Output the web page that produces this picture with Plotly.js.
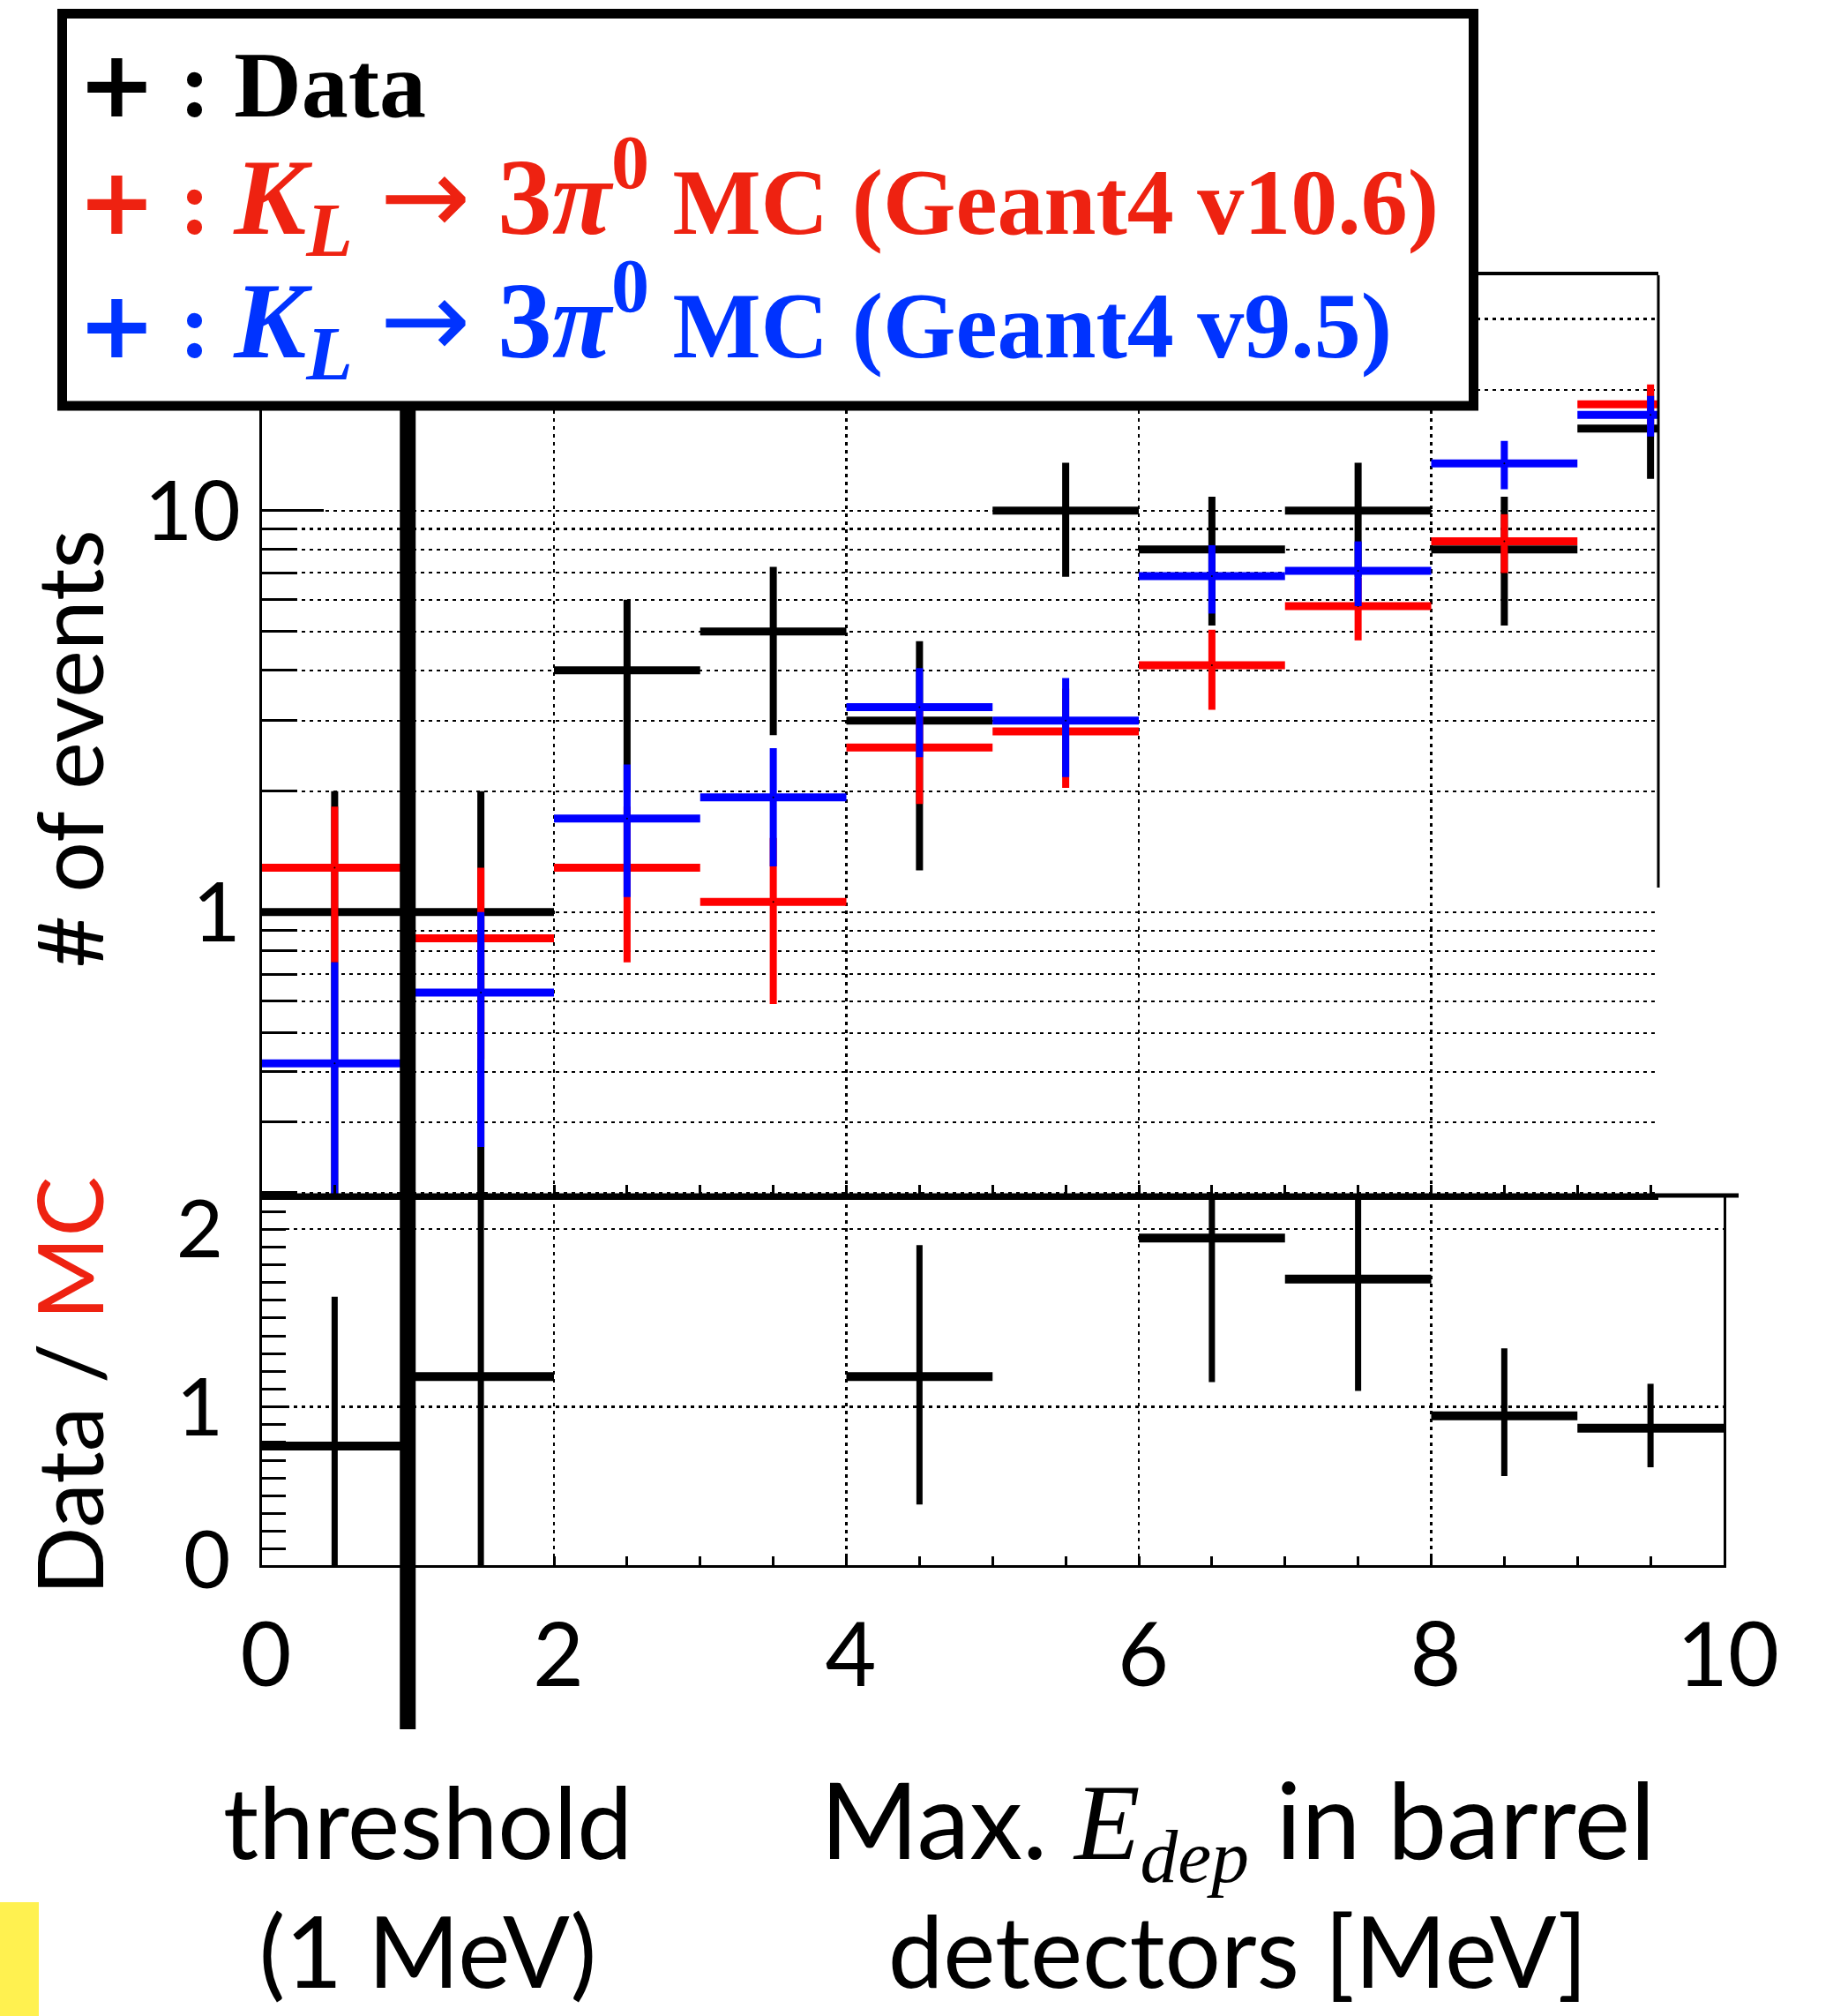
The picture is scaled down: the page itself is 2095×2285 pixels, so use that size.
<!DOCTYPE html>
<html>
<head>
<meta charset="utf-8">
<script src="https://cdn.plot.ly/plotly-3.0.1.min.js"></script>
<style>
  html, body { margin: 0; padding: 0; background: #ffffff; }
  #chart { width: 2095px; height: 2285px; }
</style>
</head>
<body>
<div id="chart"></div>
<script>
// ---------------- data ----------------
const binCenters   = [0.5, 1.5, 2.5, 3.5, 4.5, 5.5, 6.5, 7.5, 8.5, 9.5];
const binHalfWidth = [0.5, 0.5, 0.5, 0.5, 0.5, 0.5, 0.5, 0.5, 0.5, 0.5];

// Data (black)
const dataCounts = [1, 1, 4, 5, 3, 10, 8, 10, 8, 16];
const dataErr    = [1, 1, 2, 2.24, 1.73, 3.16, 2.83, 3.16, 2.83, 4];

// KL -> 3pi0 MC, Geant4 v10.6 (red)
const mcV106    = [1.29, 0.86, 1.29, 1.06, 2.57, 2.82, 4.12, 5.78, 8.39, 18.4];
const mcV106Err = [0.54, 0.43, 0.54, 0.47, 0.71, 0.78, 0.93, 1.03, 1.40, 2.2];

// KL -> 3pi0 MC, Geant4 v9.5 (blue)
const mcV95    = [0.42, 0.63, 1.71, 1.93, 3.24, 3.00, 6.87, 7.08, 13.1, 17.3];
const mcV95Err = [0.33, 0.37, 0.62, 0.63, 0.81, 0.83, 1.33, 1.30, 1.80, 2.0];

// Data / MC ratio (points outside the pad are not drawn in the reference)
const ratio        = [0.78, 1.17, null, null, 1.17, null, 1.95, 1.72, 0.95, 0.88];
const ratioErrUp   = [0.84, 1.30, null, null, 0.74, null, 0.81, 0.63, 0.38, 0.25];
const ratioErrDown = [0.84, 1.30, null, null, 0.72, null, 0.81, 0.63, 0.34, 0.22];

// tick labels
const xTickVals  = [0, 2, 4, 6, 8, 10];
const xTickText  = ['0', '2', '4', '6', '8', '10'];
const xHalfTicks = [0.5, 1, 1.5, 2.5, 3, 3.5, 4.5, 5, 5.5, 6.5, 7, 7.5, 8.5, 9, 9.5];
const xUpperGrid = [2, 4, 6, 8];
const yLogMajor  = [1, 10];
const yLogText   = ['1', '10'];
const yLogMinor  = [0.2, 0.3, 0.4, 0.5, 0.6, 0.7, 0.8, 0.9, 2, 3, 4, 5, 6, 7, 8, 9, 20, 30];
const yRatioMajor = [1, 2];
const yRatioText  = ['1', '2'];
const yRatioHalfGrid = [0.5, 1.5];
const yRatioMinor = [0.2, 0.3, 0.4, 0.5, 0.6, 0.7, 0.8, 0.9, 1.1, 1.2, 1.3, 1.4, 1.5, 1.6, 1.7, 1.8, 1.9, 2.1];
const threshold = 1;

// ---------------- styles ----------------
const W = 2095, H = 2285;
const RED_LINE = '#ff0000', BLUE_LINE = '#0000ff';
const RED_TXT = '#ee2211', BLUE_TXT = '#0033ff';
const TICKFONT = 'Lato, "Open Sans", sans-serif';
const LEGFONT = '"Liberation Serif", "DejaVu Serif", serif';
const GRIDDASH = '4px,5px';

function histTrace(y, err, color, xa, ya, tx, ty, errDown) {
  return {
    type: 'scatter', mode: 'markers',
    x: binCenters, y: y, xaxis: xa, yaxis: ya,
    marker: { size: 2, color: '#000000' },
    error_x: { type: 'data', array: binHalfWidth, symmetric: true, color: color, thickness: tx, width: 0 },
    error_y: errDown
      ? { type: 'data', array: err, arrayminus: errDown, symmetric: false, color: color, thickness: ty, width: 0 }
      : { type: 'data', array: err, symmetric: true, color: color, thickness: ty, width: 0 },
    hoverinfo: 'skip', showlegend: false, cliponaxis: true
  };
}

const traces = [
  histTrace(dataCounts, dataErr, '#000000', 'x', 'y', 9, 8),
  histTrace(mcV106, mcV106Err, RED_LINE, 'x', 'y', 9, 8),
  histTrace(mcV95, mcV95Err, BLUE_LINE, 'x', 'y', 9, 8),
  histTrace(ratio, ratioErrUp, '#000000', 'x2', 'y2', 10, 7, ratioErrDown)
];

const xL = 296.5 / W;
const xRlow = 1954 / W;
const xRup = 1880 / W;
const upRange = 10 * (1880 - 296.5) / (1954 - 296.5);
const yUpBot = (H - 1356) / H, yUpTop = (H - 312) / H;
const yLoBot = (H - 1774) / H;
const ratioRange = [0.109, 2.185];

const gridStyle = { showgrid: true, gridcolor: '#000000', gridwidth: 2.2, griddash: GRIDDASH };

const PLUS = '<span style="font-family:DejaVu Sans">+</span>';
const ARROW = '<span style="font-family:DejaVu Sans;font-weight:normal">→</span>';
function legendText(label) {
  return '<b>' + PLUS + '&nbsp;:&nbsp;' + label + '</b>';
}
const DECAY = '<span style="font-size:123px"><i>K</i><sub><i>L</i></sub>&nbsp;' + ARROW + '&nbsp;3<i>π</i><sup>0</sup></span>';

const layout = {
  width: W, height: H,
  margin: { l: 0, r: 0, t: 0, b: 0, pad: 0 },
  paper_bgcolor: '#ffffff', plot_bgcolor: '#ffffff',
  showlegend: false,
  xaxis: Object.assign({
    domain: [xL, xRup], range: [0, upRange], anchor: 'y',
    tickmode: 'array', tickvals: xUpperGrid, showticklabels: false,
    ticks: 'inside', ticklen: 13, tickwidth: 3, tickcolor: '#000',
    showline: true, linewidth: 4, linecolor: '#000', mirror: true, zeroline: false,
    minor: { tickmode: 'array', tickvals: xHalfTicks, ticks: 'inside', ticklen: 13, tickwidth: 3, tickcolor: '#000', showgrid: false }
  }, gridStyle),
  yaxis: Object.assign({
    type: 'log', domain: [yUpBot, yUpTop], range: [-0.708, 1.586], anchor: 'x',
    tickmode: 'array', tickvals: yLogMajor, ticktext: yLogText,
    ticks: 'inside', ticklen: 70, tickwidth: 3, tickcolor: '#000',
    tickfont: { family: TICKFONT, size: 94, color: '#000' }, ticklabelstandoff: 2,
    showline: true, linewidth: 3, linecolor: '#000', zeroline: false,
    minor: Object.assign({ tickmode: 'array', tickvals: yLogMinor, ticks: 'inside', ticklen: 40, tickwidth: 3, tickcolor: '#000' }, gridStyle)
  }, gridStyle),
  xaxis2: Object.assign({
    domain: [xL, xRlow], range: [0, 10], anchor: 'y2',
    tickmode: 'array', tickvals: xTickVals, ticktext: xTickText,
    ticks: 'inside', ticklen: 10, tickwidth: 3, tickcolor: '#000',
    tickfont: { family: TICKFONT, size: 100, color: '#000' }, ticklabelstandoff: 14, ticklabelshift: 5,
    showline: true, linewidth: 3, linecolor: '#000', mirror: true, zeroline: false,
    minor: { tickmode: 'array', tickvals: xHalfTicks, ticks: 'inside', ticklen: 10, tickwidth: 3, tickcolor: '#000', showgrid: false }
  }, gridStyle),
  yaxis2: Object.assign({
    domain: [yLoBot, yUpBot], range: ratioRange, anchor: 'x2',
    tickmode: 'array', tickvals: yRatioMajor, ticktext: yRatioText,
    ticks: 'inside', ticklen: 27, tickwidth: 3, tickcolor: '#000',
    tickfont: { family: TICKFONT, size: 92, color: '#000' }, ticklabelstandoff: 22,
    showline: true, linewidth: 3, linecolor: '#000', mirror: true, zeroline: false,
    minor: { tickmode: 'array', tickvals: yRatioMinor, ticks: 'inside', ticklen: 27, tickwidth: 3, tickcolor: '#000', showgrid: false }
  }, gridStyle),
  // overlay axis carrying the half-step grid lines of the ratio pad
  yaxis3: Object.assign({
    overlaying: 'y2', anchor: 'x2', range: ratioRange,
    tickmode: 'array', tickvals: yRatioHalfGrid, showticklabels: false, ticks: '',
    showline: false, zeroline: false
  }, gridStyle),
  shapes: [
    // thick border between the two pads
    { type: 'line', xref: 'x2 domain', yref: 'paper', x0: 0, x1: (1971 - 296.5) / (1954 - 296.5),
      y0: (H - 1355) / H, y1: (H - 1355) / H, line: { color: '#000', width: 5 }, layer: 'above' },
    // partial right frame of the upper pad
    { type: 'line', xref: 'x domain', yref: 'y domain', x0: 1, x1: 1, y0: (1356 - 1006) / 1044, y1: 1,
      line: { color: '#000', width: 3 }, layer: 'above' },
    // threshold line at 1 MeV
    { type: 'line', xref: 'x2', yref: 'paper', x0: threshold, x1: threshold, y0: (H - 1960) / H, y1: (H - 462) / H,
      line: { color: '#000', width: 18 }, layer: 'above' },
    // legend box
    { type: 'rect', xref: 'paper', yref: 'paper', x0: 70.5 / W, x1: 1670.5 / W, y0: (H - 460) / H, y1: (H - 15.5) / H,
      line: { color: '#000', width: 11 }, fillcolor: '#ffffff', layer: 'above' },
    // yellow strip bottom left
    { type: 'rect', xref: 'paper', yref: 'paper', x0: 0, x1: 44 / W, y0: 0, y1: (H - 2156) / H,
      line: { width: 0 }, fillcolor: '#fff150', layer: 'above' }
  ],
  annotations: [
    { xref: 'paper', yref: 'paper', x: 86 / W, y: (H - 96) / H, xanchor: 'left', yanchor: 'middle', showarrow: false,
      text: legendText('Data'), font: { family: LEGFONT, size: 106, color: '#000000' } },
    { xref: 'paper', yref: 'paper', x: 86 / W, y: (H - 223) / H, xanchor: 'left', yanchor: 'middle', showarrow: false,
      text: legendText(DECAY + '&nbsp;MC (Geant4 v10.6)'),
      font: { family: LEGFONT, size: 106, color: RED_TXT } },
    { xref: 'paper', yref: 'paper', x: 86 / W, y: (H - 363) / H, xanchor: 'left', yanchor: 'middle', showarrow: false,
      text: legendText(DECAY + '&nbsp;MC (Geant4 v9.5)'),
      font: { family: LEGFONT, size: 106, color: BLUE_TXT } },
    // y axis titles
    { xref: 'paper', yref: 'paper', x: 77 / W, y: (H - 849) / H, xanchor: 'center', yanchor: 'middle', showarrow: false,
      textangle: -90, text: '# of events', font: { family: TICKFONT, size: 102, color: '#000' } },
    { xref: 'paper', yref: 'paper', x: 77 / W, y: (H - 1571) / H, xanchor: 'center', yanchor: 'middle', showarrow: false,
      textangle: -90, text: 'Data / <span style="color:' + RED_TXT + '">MC</span>', font: { family: TICKFONT, size: 102, color: '#000' } },
    // lowest label of ratio pad
    { xref: 'paper', yref: 'paper', x: 263 / W, y: (H - 1764) / H, xanchor: 'right', yanchor: 'middle', showarrow: false,
      text: '0', font: { family: TICKFONT, size: 92, color: '#000' } },
    // x axis titles
    { xref: 'paper', yref: 'paper', x: 485 / W, y: (H - 2279) / H, xanchor: 'center', yanchor: 'bottom', showarrow: false,
      text: 'threshold<br>(1 MeV)', align: 'center', font: { family: TICKFONT, size: 112, color: '#000' } },
    { xref: 'paper', yref: 'paper', x: 1403 / W, y: (H - 2279) / H, xanchor: 'center', yanchor: 'bottom', showarrow: false,
      text: '<span style="font-size:120px">Max. <span style="font-family:Liberation Serif;font-size:122px"><i>E</i><sub><i>dep</i></sub></span> in barrel</span><br>detectors [MeV]',
      align: 'center', font: { family: TICKFONT, size: 112, color: '#000' } }
  ]
};

Plotly.newPlot('chart', traces, layout, { staticPlot: true, displayModeBar: false });
</script>
</body>
</html>
